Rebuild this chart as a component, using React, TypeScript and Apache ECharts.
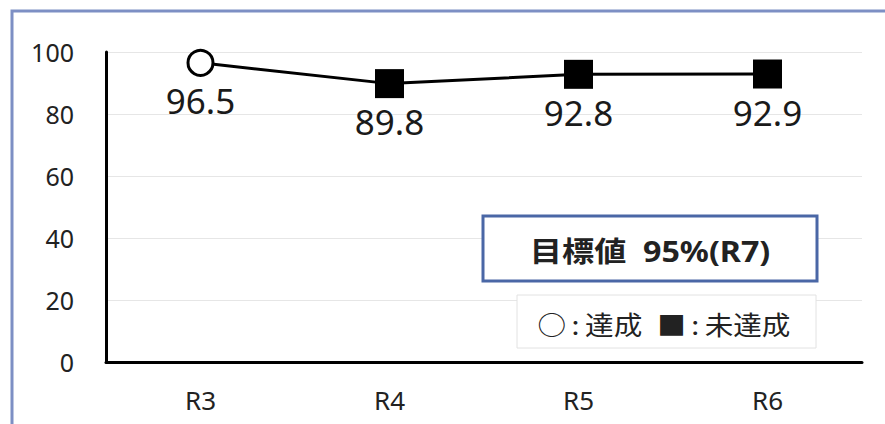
import React, { useEffect, useRef } from "react";
import * as echarts from "echarts";

const categories = ["R3", "R4", "R5", "R6"];
const values = [96.5, 89.8, 92.8, 92.9];
const achieved = [true, false, false, false];
const yTicks = [0, 20, 40, 60, 80, 100];
const targetText = "目標値  95%(R7)";
const legendParts = ["○", ":", "達成", "■", ":", "未達成"];

const FONT = "'Noto Sans', 'Noto Sans CJK JP', sans-serif";

export default function App() {
  const ref = useRef<HTMLDivElement>(null);
  useEffect(() => {
    if (!ref.current) return;
    const chart = echarts.init(ref.current, undefined, { renderer: "svg" });
    chart.setOption({
      animation: false,
      backgroundColor: "#ffffff",
      grid: { left: 106, right: 23, top: 52, bottom: 62 },
      xAxis: {
        type: "category",
        data: categories,
        boundaryGap: true,
        axisLine: { show: true, lineStyle: { color: "#000", width: 3 } },
        axisTick: { show: false },
        axisLabel: { color: "#222", fontSize: 26, fontFamily: FONT, margin: 25 },
      },
      yAxis: {
        type: "value",
        min: yTicks[0],
        max: yTicks[yTicks.length - 1],
        interval: 20,
        axisLine: { show: true, lineStyle: { color: "#000", width: 3 } },
        axisTick: { show: false },
        axisLabel: { color: "#222", fontSize: 25, fontFamily: FONT, margin: 32 },
        splitLine: { lineStyle: { color: "#e6e6e6", width: 1 } },
      },
      series: [
        {
          type: "line",
          data: values.map((v, i) => ({
            value: v,
            symbol: achieved[i] ? "circle" : "rect",
            symbolSize: achieved[i] ? 25 : 29,
            itemStyle: achieved[i]
              ? { color: "#fff", borderColor: "#000", borderWidth: 3 }
              : { color: "#000", borderColor: "#000", borderWidth: 0 },
          })),
          lineStyle: { color: "#000", width: 3 },
          label: {
            show: true,
            position: "bottom",
            distance: 6,
            fontSize: 35,
            color: "#1a1a1a",
            fontFamily: FONT,
            formatter: (p: any) => p.value.toFixed(1),
          },
          z: 5,
        },
      ],
      graphic: [
        {
          type: "polyline",
          shape: { points: [[12, 430], [12, 11], [890, 11]] },
          style: { stroke: "#7d8fc4", lineWidth: 3, fill: "none" },
          z: 10,
        },
        {
          type: "rect",
          shape: { x: 517, y: 295, width: 299, height: 53 },
          style: { fill: "#fff", stroke: "#e2e2e2", lineWidth: 1 },
          z: 10,
        },
        {
          type: "text",
          x: 664,
          y: 324,
          scaleX: 1.1,
          style: {
            text: `{a|${legendParts[0]}}{c|${legendParts[1]}}{a|${legendParts[2]}}  {a|${legendParts[3]}}{c|${legendParts[4]}}{a|${legendParts[5]}}`,
            font: `26px ${FONT}`,
            fill: "#222",
            align: "center",
            verticalAlign: "middle",
            rich: {
              a: { fontSize: 26, fontFamily: "'Noto Sans CJK JP', sans-serif", fill: "#222" },
              c: { fontSize: 26, fontFamily: "'Noto Sans CJK JP', sans-serif", fill: "#222", padding: [0, 5, 0, 5] },
            },
          },
          z: 11,
        },
        {
          type: "rect",
          shape: { x: 483, y: 216, width: 334, height: 65 },
          style: { fill: "#fff", stroke: "#4a67a6", lineWidth: 3 },
          z: 10,
        },
        {
          type: "text",
          x: 650,
          y: 251,
          scaleX: 1.15,
          style: {
            text: targetText,
            font: `bold 28px ${FONT}`,
            fill: "#222",
            align: "center",
            verticalAlign: "middle",
          },
          z: 11,
        },
      ],
    });
    return () => chart.dispose();
  }, []);
  return <div ref={ref} style={{ width: 885, height: 424, position: "absolute", left: 0, top: 0 }} />;
}
